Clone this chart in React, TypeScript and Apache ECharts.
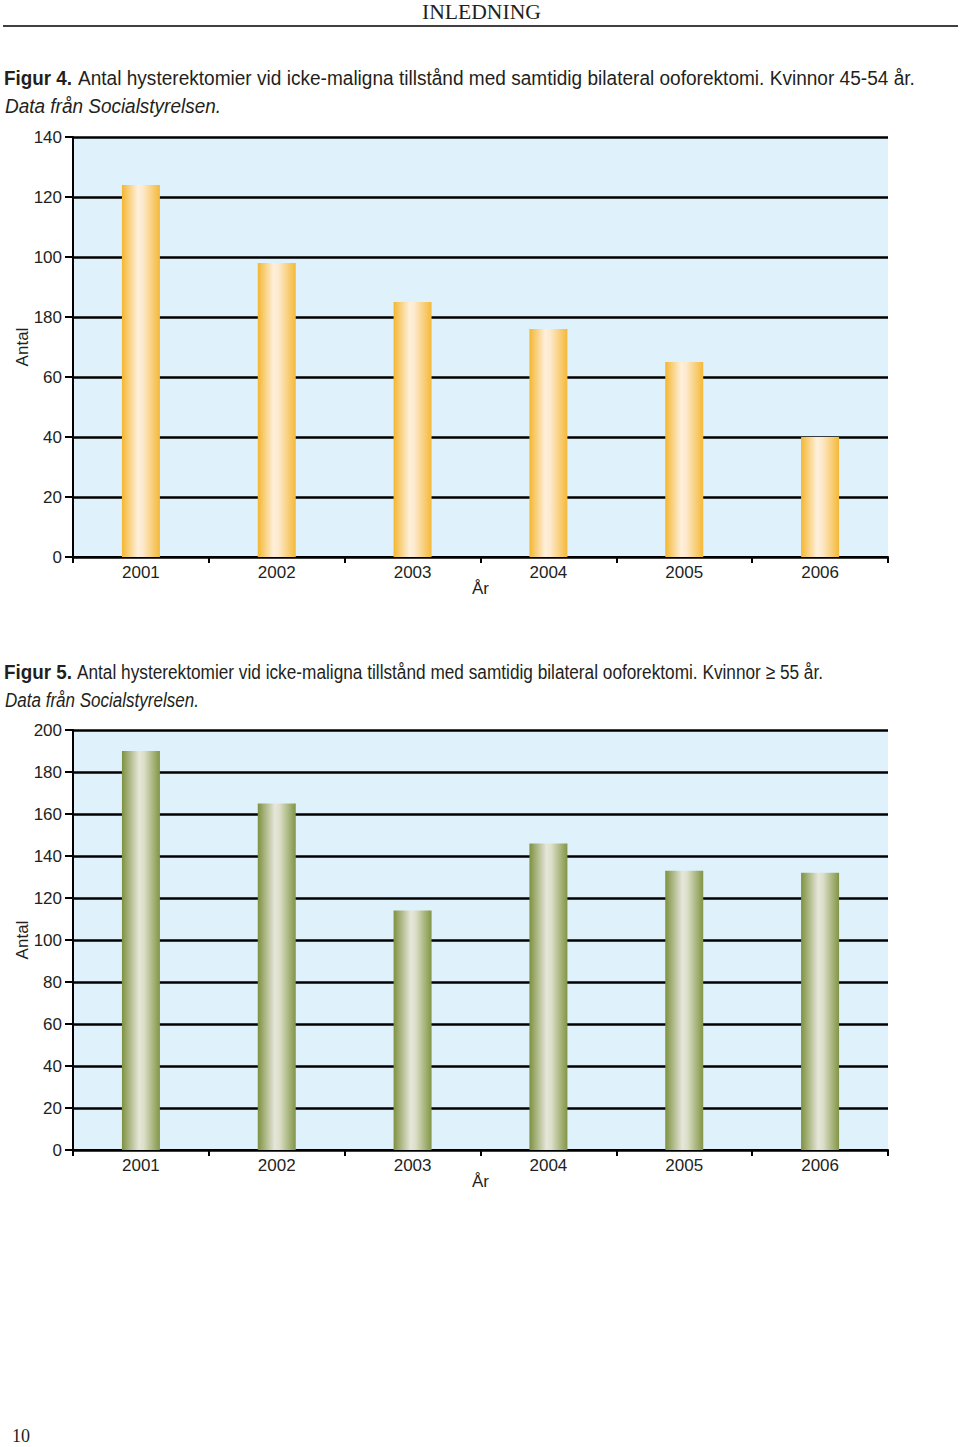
import React, { useEffect, useRef } from 'react';
import * as echarts from 'echarts';

const years = ['2001', '2002', '2003', '2004', '2005', '2006'];
const fig4Values = [124, 98, 85, 76, 65, 40];
const fig5Values = [190, 165, 114, 146, 133, 132];
const fig4TickLabels = ['0', '20', '40', '60', '180', '100', '120', '140'];
const fig5TickLabels = ['0', '20', '40', '60', '80', '100', '120', '140', '160', '180', '200'];

const headerText = 'INLEDNING';
const fig4Label = 'Figur 4.';
const fig4Caption = 'Antal hysterektomier vid icke-maligna tillstånd med samtidig bilateral ooforektomi. Kvinnor 45-54 år.';
const fig5Label = 'Figur 5.';
const fig5Caption = 'Antal hysterektomier vid icke-maligna tillstånd med samtidig bilateral ooforektomi. Kvinnor ≥ 55 år.';
const sourceText = 'Data från Socialstyrelsen.';
const yName = 'Antal';
const xName = 'År';
const pageNumber = '10';

const SANS = '"Liberation Sans", Arial, Helvetica, sans-serif';
const SERIF = '"Liberation Serif", "DejaVu Serif", serif';
const INK = '#231f20';

function measure(text: string, font: string): number {
  const ctx = document.createElement('canvas').getContext('2d');
  if (!ctx) return text.length * 10;
  ctx.font = font;
  return ctx.measureText(text).width;
}

function fitText(text: string, x: number, y: number, targetW: number, size: number, weight: string, style: string, family: string) {
  const w = measure(text, `${style} ${weight} ${size}px ${family}`);
  return {
    type: 'text',
    x,
    y,
    scaleX: targetW / w,
    style: {
      text,
      fontSize: size,
      fontWeight: weight,
      fontStyle: style,
      fontFamily: family,
      fill: INK,
      align: 'left',
      verticalAlign: 'middle',
    },
  };
}

export default function App() {
  const ref = useRef<HTMLDivElement>(null);

  useEffect(() => {
    document.body.style.margin = '0';
    if (!ref.current) return;
    const chart = echarts.init(ref.current, undefined, { renderer: 'svg' });

    const orange = new echarts.graphic.LinearGradient(0, 0, 1, 0, [
      { offset: 0, color: '#f4b630' },
      { offset: 0.42, color: '#fef0dc' },
      { offset: 0.55, color: '#fde9cc' },
      { offset: 1, color: '#f5b938' },
    ]);
    const green = new echarts.graphic.LinearGradient(0, 0, 1, 0, [
      { offset: 0, color: '#7d9140' },
      { offset: 0.45, color: '#e6e6da' },
      { offset: 0.58, color: '#dcdfc8' },
      { offset: 1, color: '#819545' },
    ]);

    const gridBase = {
      left: 73,
      right: 72,
      height: 420,
      show: true,
      backgroundColor: '#dff2fc',
      borderWidth: 0,
      containLabel: false,
      outerBoundsMode: 'none',
    };

    const xAxisBase = (gridIndex: number) => ({
      type: 'category',
      gridIndex,
      data: years,
      name: xName,
      nameLocation: 'middle',
      nameGap: 23,
      nameMoveOverlap: false,
      nameTextStyle: { fontSize: 17, color: INK, fontFamily: SANS },
      axisLine: { show: true, lineStyle: { color: '#000', width: 2 } },
      axisTick: { show: true, length: 6, lineStyle: { color: '#000', width: 2 } },
      axisLabel: { fontSize: 17, color: INK, fontFamily: SANS, margin: 7 },
      splitLine: { show: false },
    });

    const yAxisBase = (gridIndex: number, max: number, labels: string[]) => ({
      type: 'value',
      gridIndex,
      min: 0,
      max,
      interval: 20,
      name: yName,
      nameLocation: 'middle',
      nameGap: 42,
      nameMoveOverlap: false,
      nameTextStyle: { fontSize: 17, color: INK, fontFamily: SANS },
      axisLine: { show: true, lineStyle: { color: '#000', width: 2 } },
      axisTick: { show: true, length: 8, lineStyle: { color: '#000', width: 2 } },
      axisLabel: {
        fontSize: 17,
        color: INK,
        fontFamily: SANS,
        margin: 11,
        formatter: (v: number) => labels[Math.round(v / 20)] ?? '',
      },
      splitLine: { show: true, lineStyle: { color: '#000', width: 2.5 } },
    });

    chart.setOption({
      animation: false,
      backgroundColor: '#fff',
      grid: [
        { ...gridBase, top: 137 },
        { ...gridBase, top: 730 },
      ],
      xAxis: [xAxisBase(0), xAxisBase(1)],
      yAxis: [yAxisBase(0, 140, fig4TickLabels), yAxisBase(1, 200, fig5TickLabels)],
      series: [
        {
          type: 'bar',
          xAxisIndex: 0,
          yAxisIndex: 0,
          data: fig4Values,
          barWidth: 38,
          itemStyle: { color: orange },
        },
        {
          type: 'bar',
          xAxisIndex: 1,
          yAxisIndex: 1,
          data: fig5Values,
          barWidth: 38,
          itemStyle: { color: green },
        },
      ],
      graphic: [
        fitText(headerText, 422, 12, 119, 20, 'normal', 'normal', SERIF),
        { type: 'line', shape: { x1: 3, y1: 26, x2: 958, y2: 26 }, style: { stroke: '#000', lineWidth: 1.5 } },
        fitText(fig4Label, 4, 78, 68, 21, 'bold', 'normal', SANS),
        fitText(fig4Caption, 78, 78, 837, 21, 'normal', 'normal', SANS),
        fitText(sourceText, 5, 106, 216, 21, 'normal', 'italic', SANS),
        fitText(fig5Label, 4, 672, 68, 21, 'bold', 'normal', SANS),
        fitText(fig5Caption, 77, 672, 746, 21, 'normal', 'normal', SANS),
        fitText(sourceText, 5, 700, 194, 21, 'normal', 'italic', SANS),
        {
          type: 'text',
          x: 12,
          y: 1436,
          style: { text: pageNumber, fontSize: 18, fontFamily: SERIF, fill: INK, align: 'left', verticalAlign: 'middle' },
        },
      ],
    });

    return () => chart.dispose();
  }, []);

  return <div ref={ref} style={{ width: 960, height: 1447 }} />;
}
